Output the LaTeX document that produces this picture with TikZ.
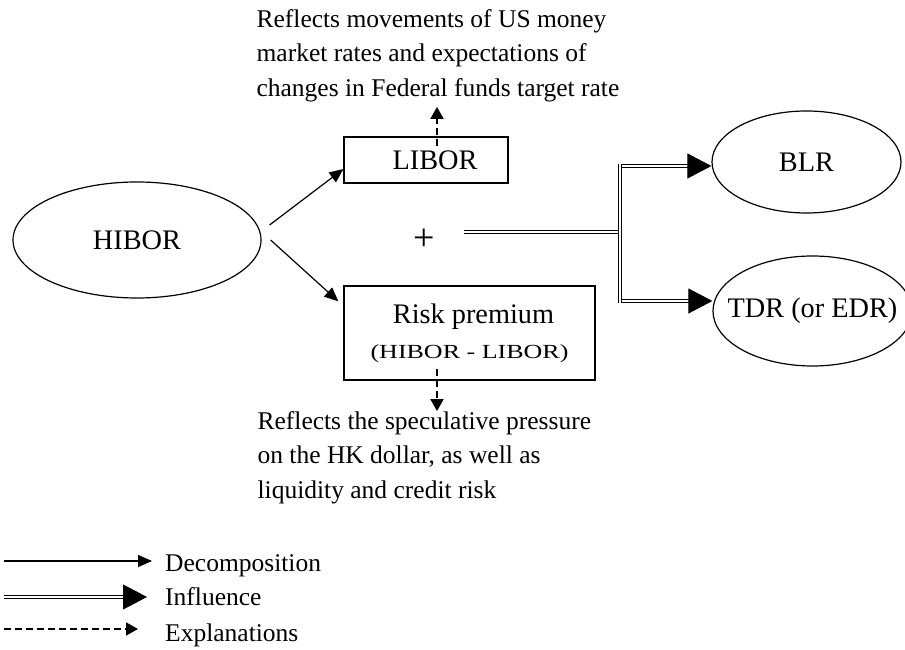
\documentclass[tikz,border=0pt]{standalone}
\usepackage{fontspec}
\setmainfont{Liberation Serif}
\usepackage{graphicx}
\usetikzlibrary{arrows.meta,positioning,shapes.geometric,calc}

\tikzset{
  rate/.style={draw, ellipse, line width=1.2pt, inner sep=0pt, font=\fontsize{28.3}{34}\selectfont},
  part/.style={draw, rectangle, line width=1.2pt, inner sep=0pt, align=center, font=\fontsize{28.3}{35}\selectfont},
  note/.style={align=left, inner sep=0pt, font=\fontsize{25.5}{34.5}\selectfont},
  decomp/.style={line width=1.2pt, -{Triangle[length=14pt,width=12pt]}},
  influence/.style={double, double distance=2pt, line width=0.9pt, -{Triangle[length=24pt,width=25pt]}},
  explain/.style={line width=1.8pt, dash pattern=on 7pt off 4pt, -{Triangle[length=12pt,width=13pt]}},
}

\begin{document}
\begin{tikzpicture}[x=1pt, y=1pt]
    \useasboundingbox (0,0) rectangle (905,650);
    % Rates and parts
    \node[rate, minimum width=248pt, minimum height=116pt] (hibor) at (137,410) {HIBOR};
    \node[part, minimum width=164pt, minimum height=46pt] (libor) at (426,490) {\hspace*{18pt}LIBOR};
    \node[part, minimum width=251pt, minimum height=94pt] (risk) at (469.5,317) {\hspace*{8pt}Risk premium\\\scalebox{1.3}[1]{\fontsize{20}{24}\selectfont (HIBOR - LIBOR)}};
    \node[font=\fontsize{38}{40}\selectfont] (plus) at (424,410) {+};
    \node[rate, minimum width=189pt, minimum height=102pt] (blr) at (806.5,488) {BLR};
    \node[rate, minimum width=199pt, minimum height=110pt] (tdr) at (812.5,339) {\makebox[0pt]{TDR (or EDR)}};
    % Explanation notes
    \node[note, above=34.5pt of libor.north west, anchor=south west, xshift=-87pt] (upnote) {Reflects movements of US money\\market rates and expectations of\\changes in Federal funds target rate};
    \node[note, below=30.5pt of risk.south west, anchor=north west, xshift=-86pt] (lownote) {Reflects the speculative pressure\\on the HK dollar, as well as\\liquidity and credit risk};

    % Decomposition
    \draw[decomp] ([shift={(8pt,15pt)}]hibor.east) -- ([yshift=-9pt]libor.west);
    \draw[decomp] ([xshift=9pt]hibor.east) -- ([shift={(-5pt,-16pt)}]risk.north west);
    % Influence
    \coordinate (split) at (620,418);
    \coordinate (jt) at (620,484);
    \coordinate (jb) at (620,349);
    \draw[influence, -] ([shift={(26pt,8pt)}]plus.east) -- (split);
    \draw[influence] (jt) -- (jt -| blr.west);
    \draw[influence] (jb) -- (jb -| tdr.west);
    \draw[influence, -] ([yshift=2pt]jt) -- ([yshift=-2pt]jb);
    % Explanations
    \draw[explain, shorten >=5pt] ([xshift=11pt,yshift=-10pt]libor.north) -- ([xshift=11pt]libor.north |- upnote.south);
    \draw[explain] ([xshift=-32.5pt,yshift=12pt]risk.south) -- ([xshift=-32.5pt]risk.south |- lownote.north);

    % Legend
    \coordinate (lg1) at (4,89);
    \coordinate (lg2) at (4,53);
    \coordinate (lg3) at (4,21);
    \node[note, anchor=base west] (t1) at (165,78) {Decomposition};
    \node[note, anchor=base west] (t2) at (165,44) {Influence};
    \node[note, anchor=base west] (t3) at (165,8.3) {Explanations};
    \draw[decomp, shorten >=13pt] (lg1) -- (lg1 -| t1.west);
    \draw[influence, shorten >=18pt] (lg2) -- (lg2 -| t2.west);
    \draw[explain, shorten >=27pt] (lg3) -- (lg3 -| t3.west);
\end{tikzpicture}
\end{document}
